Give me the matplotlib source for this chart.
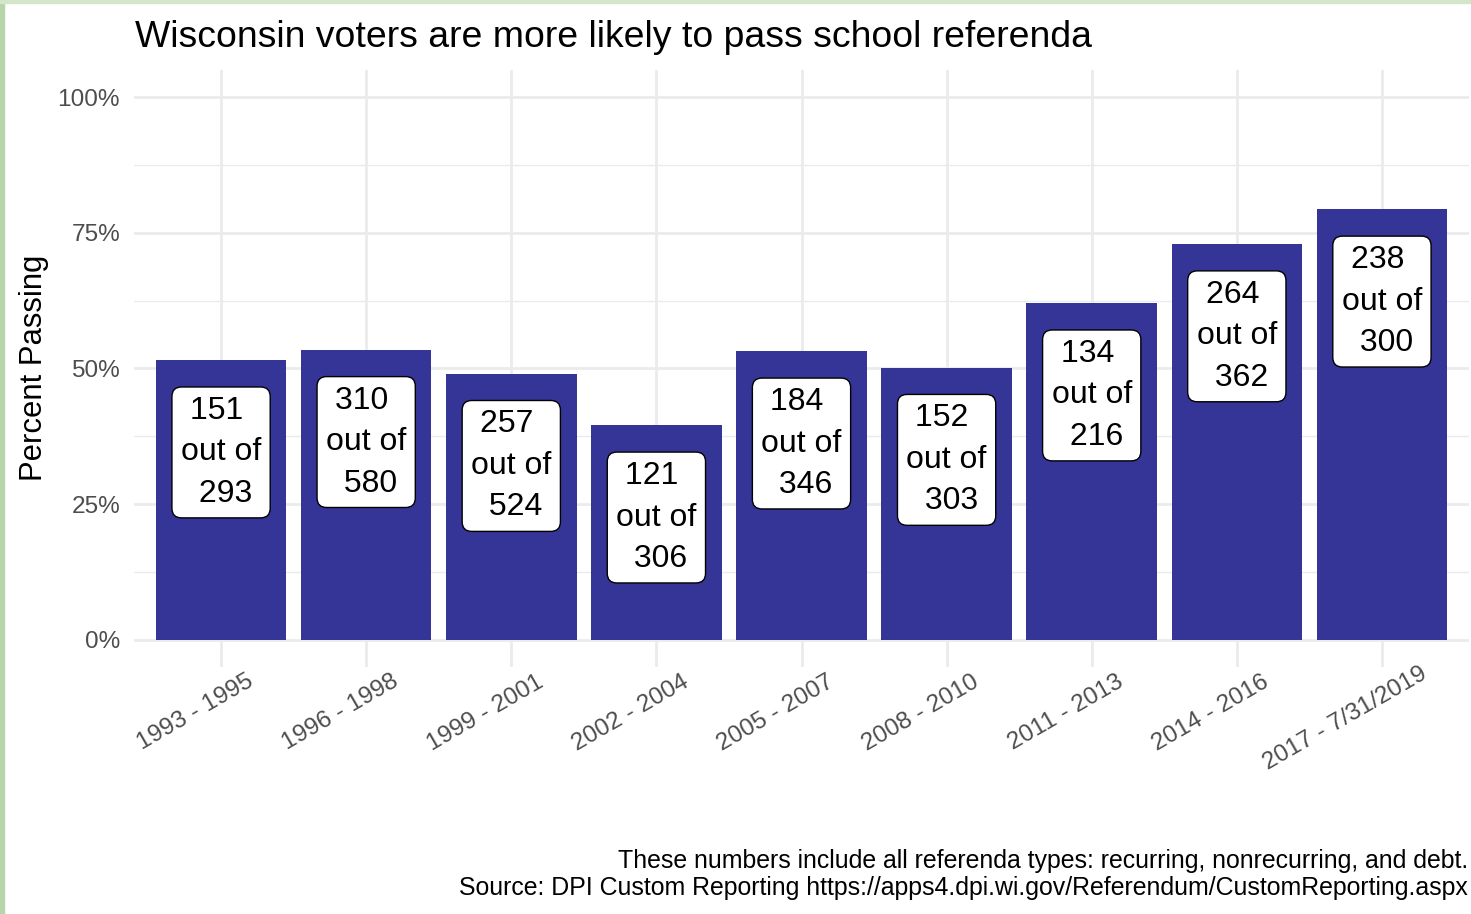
import matplotlib.pyplot as plt
from matplotlib.patches import Rectangle
from matplotlib.textpath import TextPath
from matplotlib.font_manager import FontProperties
import matplotlib.transforms as mtransforms

plt.rcParams['font.family'] = ['Liberation Sans', 'DejaVu Sans']

# data
periods = ["1993 - 1995", "1996 - 1998", "1999 - 2001", "2002 - 2004", "2005 - 2007",
           "2008 - 2010", "2011 - 2013", "2014 - 2016", "2017 - 7/31/2019"]
passed = [151, 310, 257, 121, 184, 152, 134, 264, 238]
total = [293, 580, 524, 306, 346, 303, 216, 362, 300]

pct = [100 * p / t for p, t in zip(passed, total)]
labels = [f"{p} \nout of\n {t}" for p, t in zip(passed, total)]

BAR = '#353597'
GRID = '#EBEBEB'
TICK = '#4D4D4D'

W, H = 1471, 914
fig = plt.figure(figsize=(W / 100, H / 100), dpi=100)
ax = fig.add_axes([134 / W, 1 - 667 / H, 1335 / W, 597 / H])

x = list(range(len(periods)))
ax.bar(x, pct, width=0.9, color=BAR, zorder=2)

for xi, v, lab in zip(x, pct, labels):
    ax.text(xi, v - 17, lab, ha='center', va='center', fontsize=23,
            linespacing=1.5, zorder=3,
            bbox=dict(boxstyle='round,pad=0.28,rounding_size=0.3', fc='white',
                      ec='black', lw=1.0))

ax.set_xlim(-0.6, len(periods) - 0.4)
ax.set_ylim(-5, 105)
ax.set_yticks([0, 25, 50, 75, 100])
ax.set_yticklabels(["0%", "25%", "50%", "75%", "100%"])
ax.set_yticks([12.5, 37.5, 62.5, 87.5], minor=True)
ax.set_xticks(x)
ax.set_xticklabels([])

ax.grid(True, which='major', color=GRID, lw=2.0, zorder=0)
ax.grid(True, which='minor', axis='y', color=GRID, lw=1.0, zorder=0)
ax.set_axisbelow(True)
for s in ax.spines.values():
    s.set_visible(False)
ax.tick_params(axis='both', which='both', length=0)
ax.tick_params(axis='y', labelsize=17.6, labelcolor=TICK, pad=10)

# rotated x labels, anchored ~73% along their length below the tick
fp = FontProperties(family='Liberation Sans', size=17.6)
for xi, lab in zip(x, periods):
    L = TextPath((0, 0), lab, prop=fp).get_extents().width
    dx = 0.27 * L * 0.866 - 3.5
    dy = 0.27 * L * 0.5 - 15
    off = mtransforms.ScaledTranslation(dx / 72, dy / 72, fig.dpi_scale_trans)
    ax.text(xi, 0, lab, transform=ax.get_xaxis_transform() + off,
            rotation=30, rotation_mode='anchor', ha='right', va='top',
            fontsize=17.6, color=TICK, clip_on=False)

fig.text(34 / W, 1 - 368 / H, "Percent Passing", rotation=90, ha='center',
         va='center', fontsize=22.3)
fig.text(135 / W, 1 - 47 / H, "Wisconsin voters are more likely to pass school referenda",
         ha='left', va='baseline', fontsize=26.9)
fig.text(1468 / W, 1 - 868 / H,
         "These numbers include all referenda types: recurring, nonrecurring, and debt.",
         ha='right', va='baseline', fontsize=17.9)
fig.text(1468 / W, 1 - 895 / H,
         "Source: DPI Custom Reporting https://apps4.dpi.wi.gov/Referendum/CustomReporting.aspx",
         ha='right', va='baseline', fontsize=17.9)

# thin green frame on the left/top edges
fig.patches.append(Rectangle((0, 0), 4 / W, 1, transform=fig.transFigure,
                             color='#b7d5a8', zorder=0))
fig.patches.append(Rectangle((0, 1 - 3 / H), 1, 3 / H, transform=fig.transFigure,
                             color='#d3e6cb', zorder=0))

fig.savefig("out.png", dpi=100)
